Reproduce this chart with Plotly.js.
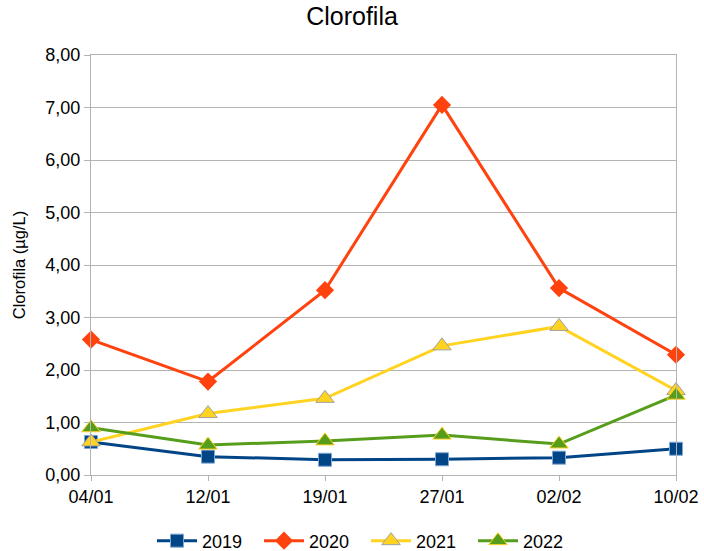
<!DOCTYPE html>
<html>
<head>
<meta charset="utf-8">
<script src="https://cdn.plot.ly/plotly-3.0.1.min.js"></script>
<style>html,body{margin:0;padding:0;background:#fff;}#chart{width:704px;height:551px;}</style>
</head>
<body>
<div id="chart"></div>
<script>
var categories = ["04/01", "12/01", "19/01", "27/01", "02/02", "10/02"];
var seriesNames = ["2019", "2020", "2021", "2022"];
var values2019 = [0.63, 0.35, 0.29, 0.30, 0.33, 0.50];
var values2020 = [2.58, 1.78, 3.52, 7.05, 3.56, 2.29];
var values2021 = [0.63, 1.17, 1.46, 2.46, 2.83, 1.61];
var values2022 = [0.90, 0.57, 0.65, 0.76, 0.59, 1.52];
var yTickVals = [0, 1, 2, 3, 4, 5, 6, 7, 8];

var styles = [
  {color: "#004586", symbol: "square", size: 13, lc: "#7fa6d6", lw: 1},
  {color: "#ff420e", symbol: "diamond", size: 14, lc: "#ff420e", lw: 0},
  {color: "#ffd320", symbol: "triangle-up", size: 16, lc: "#a0a0a0", lw: 1},
  {color: "#579d1c", symbol: "triangle-up", size: 16, lc: "#ffd320", lw: 1}
];
var allValues = [values2019, values2020, values2021, values2022];

var data = allValues.map(function (v, i) {
  var s = styles[i];
  return {
    type: "scatter",
    mode: "lines+markers",
    name: seriesNames[i],
    x: categories,
    y: v,
    cliponaxis: false,
    line: {color: s.color, width: 3},
    marker: {symbol: s.symbol, size: s.size, color: s.color, line: {color: s.lc, width: s.lw}}
  };
});

var FONT = "'Liberation Sans', Arial, sans-serif";

var layout = {
  width: 704,
  height: 551,
  margin: {l: 91, r: 28, t: 55, b: 76, autoexpand: false},
  paper_bgcolor: "#ffffff",
  plot_bgcolor: "#ffffff",
  separators: ",.",
  font: {family: FONT, size: 18, color: "#000"},
  title: {text: "Clorofila", x: 0.5, xanchor: "center", y: 0.97, yanchor: "middle", font: {family: FONT, size: 25, color: "#000"}},
  showlegend: true,
  legend: {orientation: "h", x: (152 - 91) / 585, xanchor: "left", y: -0.157, yanchor: "middle", font: {family: FONT, size: 18}, itemwidth: 40, entrywidth: 52, entrywidthmode: "pixels", tracegroupgap: 0},
  xaxis: {
    type: "category",
    range: [0, 5],
    showgrid: false,
    showline: true,
    linecolor: "#b3b3b3",
    linewidth: 1,
    mirror: true,
    ticks: "outside",
    ticklen: 5,
    tickcolor: "#b3b3b3",
    zeroline: false,
    tickfont: {family: FONT, size: 18}
  },
  yaxis: {
    range: [0, 8],
    tickvals: yTickVals,
    tickformat: ".2f",
    showgrid: true,
    gridcolor: "#b3b3b3",
    gridwidth: 1,
    showline: true,
    linecolor: "#b3b3b3",
    mirror: true,
    ticks: "outside",
    ticklen: 6,
    tickcolor: "#b3b3b3",
    zeroline: false,
    tickfont: {family: FONT, size: 18},
    title: {text: "Clorofila (µg/L)", font: {family: FONT, size: 16.5}, standoff: 15}
  }
};

Plotly.newPlot("chart", data, layout, {displayModeBar: false, staticPlot: true});
</script>
</body>
</html>
